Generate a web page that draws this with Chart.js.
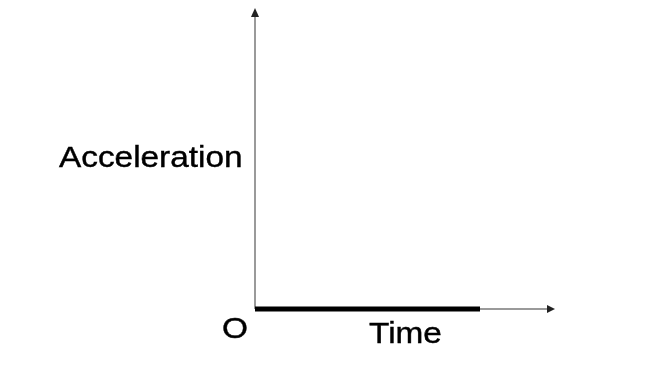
<!DOCTYPE html>
<html>
<head>
<meta charset="utf-8">
<script src="https://cdn.jsdelivr.net/npm/chart.js@4"></script>
<style>
  html, body { margin: 0; padding: 0; background: #fff; }
  #wrap { width: 645px; height: 373px; }
</style>
</head>
<body>
<div id="wrap"><canvas id="chart"></canvas></div>
<script>
// data: acceleration stays zero over time
const times = [0, 0.75];
const accelerations = [0, 0];
const yTitle = 'Acceleration';
const xTitle = 'Time';
const originLabel = 'O';

const AxisColor = '#7a7a7a';

// draws the arrowed axes and the text labels
const axesPlugin = {
  id: 'arrowAxes',
  beforeDatasetsDraw(chart) {
    const { ctx } = chart;
    const x = chart.scales.x, y = chart.scales.y;
    const x0 = x.getPixelForValue(0), x1 = x.getPixelForValue(1);
    const y0 = y.getPixelForValue(0), y1 = y.getPixelForValue(1);

    ctx.save();
    ctx.strokeStyle = AxisColor;
    ctx.lineWidth = 1.5;
    ctx.beginPath();
    ctx.moveTo(x0, y0);
    ctx.lineTo(x0, y1 + 6);
    ctx.moveTo(x0, y0);
    ctx.lineTo(x1 - 6, y0);
    ctx.stroke();

    ctx.fillStyle = '#222';
    ctx.beginPath();
    ctx.moveTo(x0, y1);
    ctx.lineTo(x0 - 4, y1 + 9);
    ctx.lineTo(x0 + 4, y1 + 9);
    ctx.closePath();
    ctx.fill();
    ctx.beginPath();
    ctx.moveTo(x1, y0);
    ctx.lineTo(x1 - 8, y0 - 4);
    ctx.lineTo(x1 - 8, y0 + 4);
    ctx.closePath();
    ctx.fill();
    ctx.restore();
  },
  afterDraw(chart) {
    const { ctx } = chart;
    const drawText = (text, left, baseline) => {
      ctx.save();
      ctx.translate(left, baseline);
      ctx.scale(1.15, 1);
      ctx.font = '29px "Liberation Sans", Arial, sans-serif';
      ctx.fillStyle = '#000';
      ctx.strokeStyle = '#000';
      ctx.lineWidth = 0.4;
      ctx.textBaseline = 'alphabetic';
      ctx.fillText(text, 0, 0);
      ctx.strokeText(text, 0, 0);
      ctx.restore();
    };
    drawText(yTitle, 59, 167);
    drawText(originLabel, 222, 338);
    drawText(xTitle, 369, 343);
  }
};

new Chart(document.getElementById('chart').getContext('2d'), {
  type: 'line',
  data: {
    datasets: [{
      data: times.map((t, i) => ({ x: t, y: accelerations[i] })),
      borderColor: '#000',
      borderWidth: 5,
      borderCapStyle: 'butt',
      pointRadius: 0,
      clip: false
    }]
  },
  options: {
    responsive: true,
    maintainAspectRatio: false,
    animation: false,
    layout: { padding: { left: 255, right: 90, top: 8, bottom: 64 } },
    plugins: { legend: { display: false }, tooltip: { enabled: false } },
    scales: {
      x: { type: 'linear', min: 0, max: 1, display: false },
      y: { type: 'linear', min: 0, max: 1, display: false }
    }
  },
  plugins: [axesPlugin]
});
</script>
</body>
</html>
